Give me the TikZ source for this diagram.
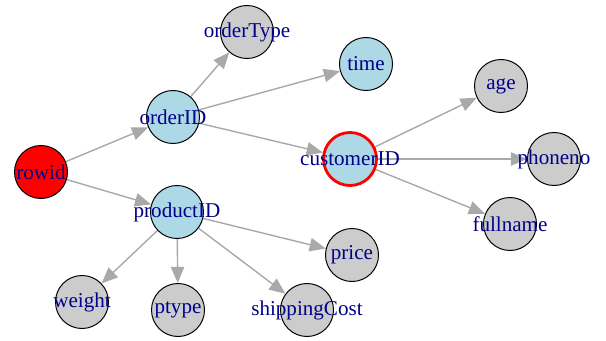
\documentclass[tikz,border=0pt]{standalone}
\usepackage{fontspec}
\setmainfont{Liberation Serif}
\usepackage{tikz}
\usetikzlibrary{arrows.meta}
\usetikzlibrary{backgrounds}
\definecolor{vertexblue}{RGB}{173,216,230}
\definecolor{vertexgray}{RGB}{204,204,204}
\definecolor{labelblue}{RGB}{0,0,139}
\definecolor{edgegray}{RGB}{169,169,169}
\newcommand{\vname}[1]{\makebox[0pt]{#1}}
\tikzset{
    vertex/.style={draw=black, circle, line width=0.7pt, minimum size=37.7pt, inner sep=0pt, text=labelblue, font=\fontsize{15}{15}\selectfont},
    key/.style={vertex, fill=vertexblue},
    attr/.style={vertex, fill=vertexgray},
    root/.style={vertex, fill=red},
    picked/.style={key, draw=red, line width=2pt},
    link/.style={-{Triangle[length=11.5pt, width=9.5pt]}, edgegray, line width=1pt}
}
\begin{document}
\begin{tikzpicture}[x=0.025cm, y=-0.025cm]
    \useasboundingbox (0,0) rectangle (606,341);

    \node[root] (rowid) at (41,172) {\vname{rowid}};
    \node[key] (orderID) at (173,117) {\vname{orderID}};
    \node[attr] (orderType) at (247,32) {\vname{orderType}};
    \node[key] (time) at (366,64) {\vname{time}};
    \node[picked] (customerID) at (350,159) {\vname{customerID}};
    \node[attr] (age) at (501,86) {\vname{age}};
    \node[attr] (phoneno) at (554,159) {\vname{phoneno}};
    \node[attr] (fullname) at (510,224) {\vname{fullname}};
    \node[key] (productID) at (177,212) {\vname{productID}};
    \node[attr] (price) at (352,255) {\vname{price}};
    \node[attr] (weight) at (82,302) {\vname{weight}};
    \node[attr] (ptype) at (178,310) {\vname{ptype}};
    \node[attr] (shippingCost) at (307,310) {\vname{shippingCost}};

    \begin{scope}[on background layer]
        \draw[link] (rowid) -- (orderID);
        \draw[link] (rowid) -- (productID);
        \draw[link] (orderID) -- (orderType);
        \draw[link] (orderID) -- (time);
        \draw[link] (orderID) -- (customerID);
        \draw[link] (customerID) -- (age);
        \draw[link] (customerID) -- (phoneno);
        \draw[link] (customerID) -- (fullname);
        \draw[link] (productID) -- (price);
        \draw[link] (productID) -- (weight);
        \draw[link] (productID) -- (ptype);
        \draw[link] (productID) -- (shippingCost);
    \end{scope}
\end{tikzpicture}
\end{document}
